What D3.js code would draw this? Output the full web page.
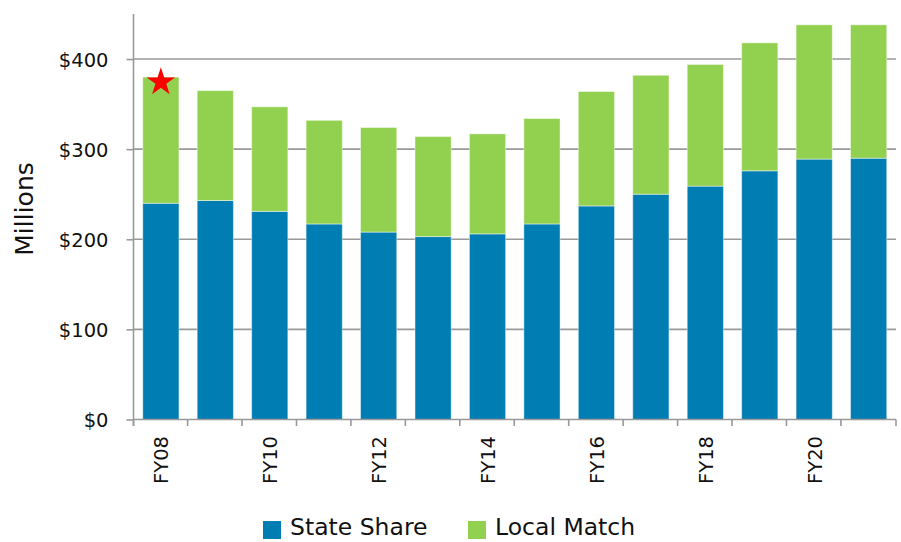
<!DOCTYPE html>
<html>
<head>
<meta charset="utf-8">
<script src="https://cdn.jsdelivr.net/npm/d3@7"></script>
<style>
  body { margin: 0; background: #fff; }
  svg text { font-family: "DejaVu Sans", Verdana, sans-serif; fill: #111; }
</style>
</head>
<body>
<svg id="chart" width="901" height="542"></svg>
<script>
var years = ["FY08", "FY09", "FY10", "FY11", "FY12", "FY13", "FY14",
             "FY15", "FY16", "FY17", "FY18", "FY19", "FY20", "FY21"];
var stateShare = [240, 243, 231, 217, 208, 203, 206, 217, 237, 250, 259, 276, 289, 290];
var localMatch = [140, 122, 116, 115, 116, 111, 111, 117, 127, 132, 135, 142, 149, 148];
var yTicks = [0, 100, 200, 300, 400];
var seriesNames = ["State Share", "Local Match"];
var seriesColors = ["#007db3", "#92d050"];

var svg = d3.select("#chart");

var x = d3.scaleBand().domain(years).range([133.5, 896]).paddingInner(0.335).paddingOuter(0.17),
    y = d3.scaleLinear().domain([0, 450]).range([419.5, 14]);

// gridlines
svg.append("g")
  .selectAll("line")
  .data(yTicks.slice(1))
  .enter()
  .append("line")
    .attr("x1", 133.5)
    .attr("x2", 896)
    .attr("y1", d => y(d))
    .attr("y2", d => y(d))
    .style("stroke", "#999")
    .style("stroke-width", 1.6);

// stacked bars
var rows = years.map((yr, i) => ({year: yr, state: stateShare[i], local: localMatch[i]}));
var stack = d3.stack().keys(["state", "local"])(rows);

svg.append("g")
  .selectAll("g")
  .data(stack)
  .enter()
  .append("g")
    .style("fill", (d, i) => seriesColors[i])
  .selectAll("rect")
  .data(d => d)
  .enter()
  .append("rect")
    .attr("x", d => x(d.data.year))
    .attr("y", d => y(d[1]))
    .attr("width", x.bandwidth())
    .attr("height", d => y(d[0]) - y(d[1]))
    .style("stroke", "#fff")
    .style("stroke-opacity", 0.45)
    .style("stroke-width", 1);

// y axis
var yAxis = d3.axisLeft(y).tickValues(yTicks).tickSize(7).tickPadding(18)
  .tickFormat(d => "$" + d);
var yg = svg.append("g")
  .attr("transform", "translate(133.5,0)")
  .call(yAxis);
yg.select(".domain").attr("d", "M0,14V426").style("stroke", "#999").style("stroke-width", 1.6);
yg.selectAll(".tick line").style("stroke", "#999").style("stroke-width", 1.6);
yg.selectAll(".tick text").style("font-size", "19.5px").attr("dy", "0.36em");

// x axis: ticks at band edges
var edges = years.map(d => x(d) - x.step() * x.paddingInner() / 2 - 0.5).concat([896]);
edges[0] = 133.5;
var xg = svg.append("g");
xg.append("line")
  .attr("x1", 133.5).attr("x2", 896).attr("y1", 419.5).attr("y2", 419.5)
  .style("stroke", "#999").style("stroke-width", 1.6);
xg.selectAll(".xtick")
  .data(edges)
  .enter()
  .append("line")
    .attr("x1", d => d).attr("x2", d => d)
    .attr("y1", 419.5).attr("y2", 426)
    .style("stroke", "#999").style("stroke-width", 1.6);
xg.selectAll("text")
  .data(years.filter((d, i) => i % 2 == 0))
  .enter()
  .append("text")
    .attr("transform", d => "translate(" + (x(d) + x.bandwidth() / 2 + 7.5) + ",436) rotate(-90)")
    .attr("text-anchor", "end")
    .style("font-size", "19.5px")
    .text(d => d);

// y title
svg.append("text")
  .attr("transform", "translate(33,209) rotate(-90)")
  .attr("text-anchor", "middle")
  .style("font-size", "25px")
  .text("Millions");

// red star on FY08
svg.append("path")
  .attr("d", d3.symbol().type(d3.symbolStar).size(250)())
  .attr("transform", "translate(" + (x("FY08") + x.bandwidth() / 2) + "," + (y(380) + 5) + ")")
  .style("fill", "#ff0000");

// legend
var legend = svg.append("g");
var legendX = [263, 468];
seriesNames.forEach(function(name, i) {
  legend.append("rect")
    .attr("x", legendX[i]).attr("y", 521)
    .attr("width", 18).attr("height", 18)
    .style("fill", seriesColors[i]);
  legend.append("text")
    .attr("x", legendX[i] + 27).attr("y", 535)
    .style("font-size", "23.5px")
    .text(name);
});
</script>
</body>
</html>
